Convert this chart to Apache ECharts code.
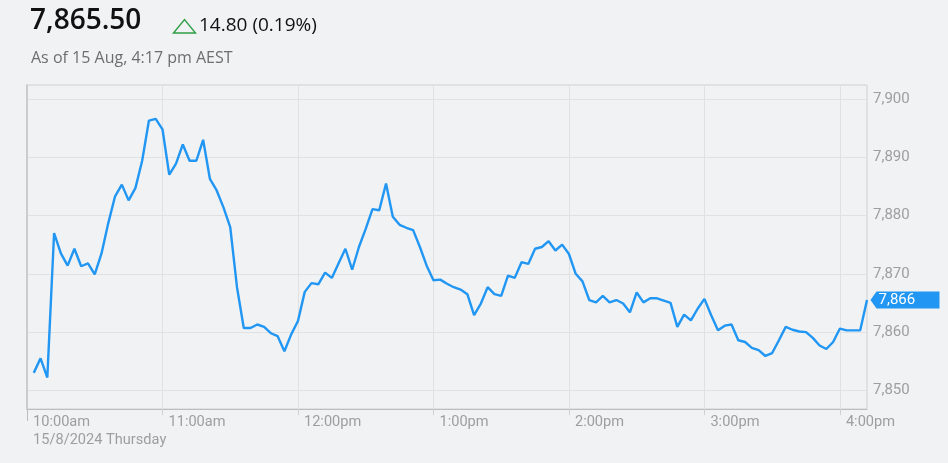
<!DOCTYPE html>
<html>
<head>
<meta charset="utf-8">
<script src="https://cdn.jsdelivr.net/npm/echarts@6/dist/echarts.min.js"></script>
<style>
  html, body { margin: 0; padding: 0; background: #f1f2f4; }
  #chart { width: 948px; height: 463px; }
</style>
</head>
<body>
<div id="chart"></div>
<script>
// ---- header text ----
const lastPrice = '7,865.50';
const changeText = '14.80 (0.19%)';
const asOfText = 'As of 15 Aug, 4:17 pm AEST';
const dateLabel = '15/8/2024 Thursday';

// ---- x axis (time of day) ----
const hourTicks = ['10:00', '11:00', '12:00', '13:00', '14:00', '15:00', '16:00'];
const axisStart = '10:00';
const axisEnd = '16:12';

// ---- y axis ----
const yTicks = [7850, 7860, 7870, 7880, 7890, 7900];
const yMin = 7846.8;
const yMax = 7902.4;

// ---- series: times and index values ----
const times = [
  '10:03','10:06','10:09','10:12','10:15','10:18','10:21','10:24','10:27','10:30',
  '10:33','10:36','10:39','10:42','10:45','10:48','10:51','10:54','10:57',
  '11:00','11:03','11:06','11:09','11:12','11:15','11:18','11:21','11:24','11:27',
  '11:30','11:33','11:36','11:39','11:42','11:45','11:48','11:51','11:54','11:57',
  '12:00','12:03','12:06','12:09','12:12','12:15','12:18','12:21','12:24','12:27',
  '12:30','12:33','12:36','12:39','12:42','12:45','12:48','12:51','12:54','12:57',
  '13:00','13:03','13:06','13:09','13:12','13:15','13:18','13:21','13:24','13:27',
  '13:30','13:33','13:36','13:39','13:42','13:45','13:48','13:51','13:54','13:57',
  '14:00','14:03','14:06','14:09','14:12','14:15','14:18','14:21','14:24','14:27',
  '14:30','14:33','14:36','14:39','14:42','14:45','14:48','14:51','14:54','14:57',
  '15:00','15:03','15:06','15:09','15:12','15:15','15:18','15:21','15:24','15:27',
  '15:30','15:33','15:36','15:39','15:42','15:45','15:48','15:51','15:54','15:57',
  '16:00','16:03','16:06','16:09','16:12'
];
const values = [
  7853.0, 7855.5, 7852.2, 7877.0, 7873.5, 7871.4, 7874.3, 7871.3, 7871.8, 7869.9,
  7873.5, 7878.7, 7883.3, 7885.3, 7882.6, 7884.7, 7889.4, 7896.3, 7896.6,
  7894.8, 7887.0, 7888.9, 7892.2, 7889.4, 7889.4, 7893.0, 7886.3, 7884.3, 7881.4,
  7878.0, 7867.7, 7860.7, 7860.7, 7861.3, 7860.9, 7859.8, 7859.3, 7856.7, 7859.6,
  7861.9, 7866.9, 7868.4, 7868.2, 7870.2, 7869.3, 7871.8, 7874.3, 7870.7, 7874.6,
  7877.7, 7881.1, 7880.9, 7885.5, 7879.8, 7878.4, 7877.9, 7877.5, 7874.6, 7871.4,
  7868.9, 7869.0, 7868.3, 7867.7, 7867.3, 7866.5, 7862.9, 7864.9, 7867.7, 7866.5,
  7866.2, 7869.7, 7869.3, 7872.0, 7871.7, 7874.3, 7874.6, 7875.6, 7874.0, 7875.0,
  7873.4, 7870.0, 7868.7, 7865.5, 7865.1, 7866.2, 7865.1, 7865.5, 7864.9, 7863.4,
  7866.8, 7865.1, 7865.8, 7865.8, 7865.4, 7865.0, 7860.9, 7863.0, 7862.0, 7864.0,
  7865.7, 7862.9, 7860.3, 7861.1, 7861.3, 7858.6, 7858.3, 7857.3, 7856.9, 7855.9,
  7856.4, 7858.6, 7860.9, 7860.4, 7860.1, 7860.0, 7859.0, 7857.7, 7857.1, 7858.3,
  7860.6, 7860.3, 7860.3, 7860.3, 7865.5
];

// helpers
function toMin(t) { const p = t.split(':'); return (+p[0]) * 60 + (+p[1]); }
const base = toMin(axisStart);
function fmtClock(m) {
  const tot = base + m;
  let h = Math.floor(tot / 60), mm = tot % 60;
  const suffix = h >= 12 ? 'pm' : 'am';
  let h12 = h % 12; if (h12 === 0) h12 = 12;
  return h12 + ':' + String(mm).padStart(2, '0') + suffix;
}
function fmtNum(v) { return Math.round(v).toLocaleString('en-US'); }

const data = times.map((t, i) => [toMin(t) - base, values[i]]);
const xTickVals = hourTicks.map(t => toMin(t) - base);
const lastPoint = data[data.length - 1];
const xMax = toMin(axisEnd) - base;

const blue = '#2196f3';
const labelBase = {
  align: 'left',
  verticalAlign: 'top',
  padding: [0, 0, 0, 6],
  color: '#9e9e9e',
  fontFamily: 'Roboto',
  fontSize: 14.6,
  showMinLabel: true,
  hideOverlap: false
};
const chart = echarts.init(document.getElementById('chart'), null, { renderer: 'canvas' });
chart.setOption({
  animation: false,
  backgroundColor: '#f1f2f4',
  grid: {
    left: 27, right: 81, top: 85, bottom: 54,
    show: true, borderColor: '#cfd0d2', borderWidth: 1, backgroundColor: 'transparent'
  },
  xAxis: [{
    type: 'value',
    min: 0,
    max: xMax,
    axisLine: { show: true, lineStyle: { color: '#bdbdbd', width: 1 } },
    axisTick: { show: true, length: 6, lineStyle: { color: '#cfd0d2' }, customValues: xTickVals },
    splitLine: { show: true, lineStyle: { color: '#e0e1e3', width: 1 } },
    axisLabel: Object.assign({}, labelBase, {
      customValues: xTickVals,
      margin: 6,
      formatter: fmtClock
    })
  }, {
    type: 'value',
    position: 'bottom',
    min: 0,
    max: xMax,
    axisLine: { show: false },
    axisTick: { show: true, length: 12, lineStyle: { color: '#bdbdbd' }, customValues: [0] },
    splitLine: { show: false },
    axisLabel: Object.assign({}, labelBase, {
      customValues: [0],
      margin: 24,
      formatter: function () { return dateLabel; }
    })
  }],
  yAxis: {
    type: 'value',
    position: 'right',
    min: yMin,
    max: yMax,
    axisLine: { show: true, lineStyle: { color: '#c4c4c4', width: 1.5 } },
    axisTick: { show: false, customValues: yTicks },
    splitLine: { show: true, lineStyle: { color: '#e0e1e3', width: 1 } },
    axisLabel: {
      customValues: yTicks,
      margin: 6,
      color: '#9e9e9e',
      fontFamily: 'Roboto',
      fontSize: 15,
      formatter: fmtNum
    }
  },
  series: [{
    type: 'line',
    xAxisIndex: 0,
    data: data,
    showSymbol: false,
    symbol: 'none',
    clip: false,
    lineStyle: { color: blue, width: 2.4 },
    itemStyle: { color: blue },
    markPoint: {
      silent: true,
      symbol: 'path://M0,8.5 L6,0 L69,0 L69,17 L6,17 Z',
      symbolSize: [69, 17],
      symbolKeepAspect: false,
      itemStyle: { color: blue },
      data: [{ coord: lastPoint, symbolOffset: [38, 0] }],
      label: {
        show: true,
        position: 'insideLeft',
        distance: 8,
        color: '#ffffff',
        fontFamily: 'Roboto',
        fontSize: 15,
        formatter: function () { return fmtNum(lastPoint[1]); }
      }
    }
  }],
  graphic: [
    {
      type: 'text', left: 30, top: 7,
      style: { text: lastPrice, fill: '#111111', font: '600 28px "Open Sans"' }
    },
    {
      type: 'polygon',
      shape: { points: [[173.5, 33], [184.5, 19.5], [195.5, 33]] },
      style: { fill: 'none', stroke: '#2e9e44', lineWidth: 1.4 }
    },
    {
      type: 'text', left: 199, top: 16,
      style: { text: changeText, fill: '#111111', font: '500 19px "Open Sans"' }
    },
    {
      type: 'text', left: 31, top: 50,
      style: { text: asOfText, fill: '#6e6e6e', font: '16px "Open Sans"' }
    }
  ]
});
</script>
</body>
</html>
